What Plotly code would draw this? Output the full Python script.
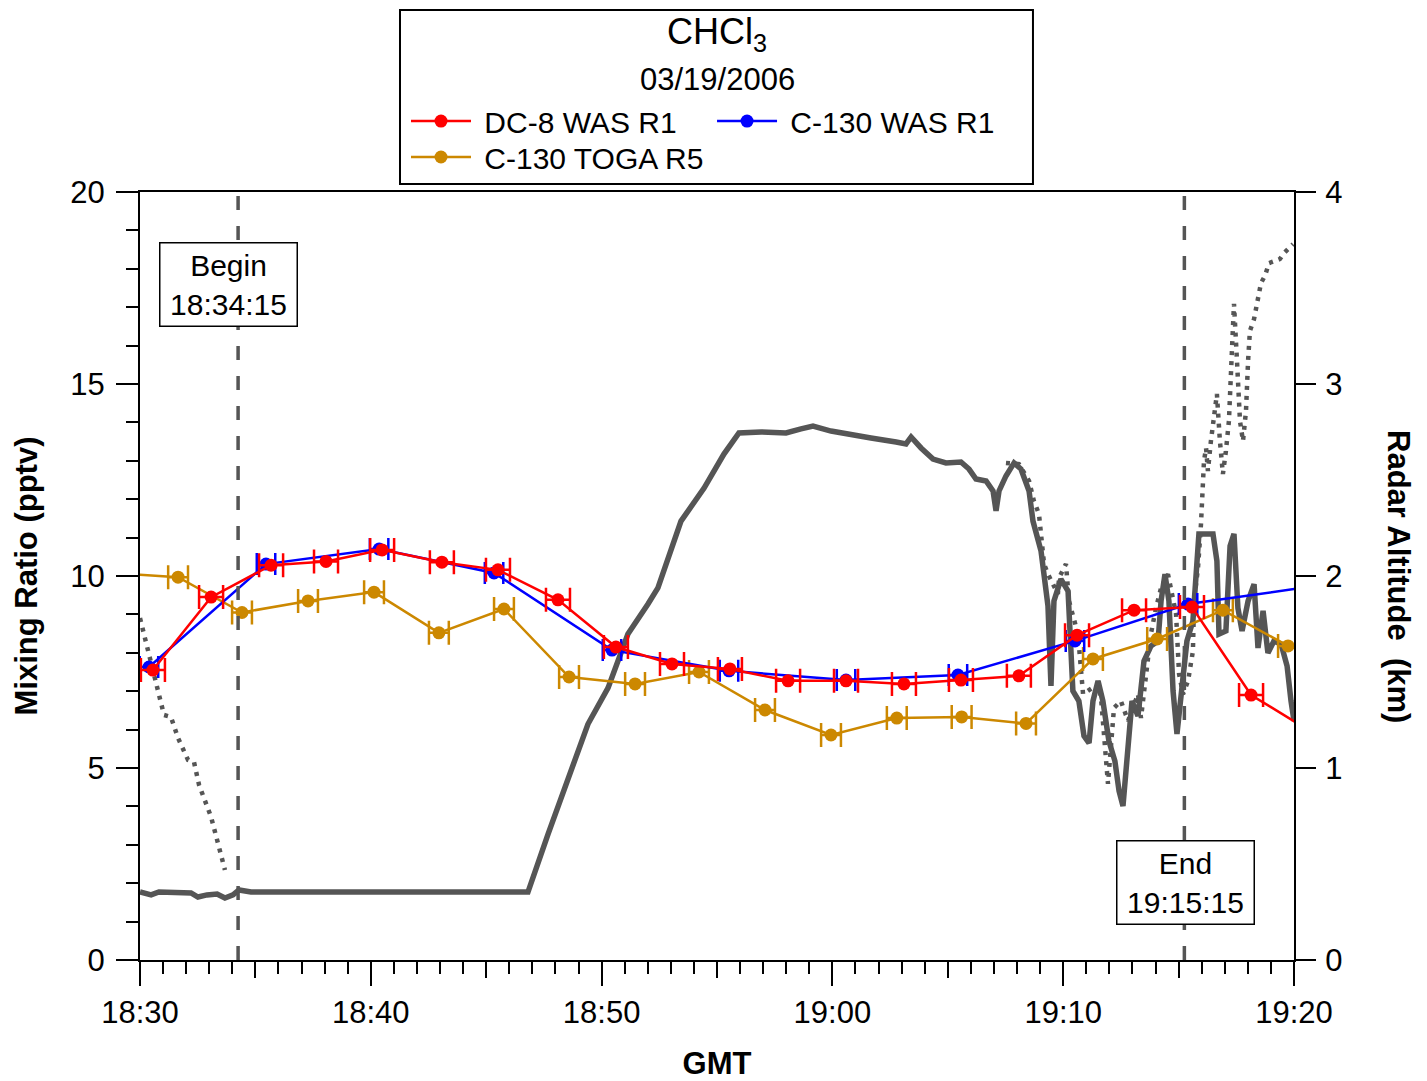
import plotly.graph_objects as go

# ---------------- data (time in minutes after 18:30 GMT) ----------------
tick_vals = [0, 10, 20, 30, 40, 50]
tick_labels = ["18:30", "18:40", "18:50", "19:00", "19:10", "19:20"]
mid_tick_vals = [5, 15, 25, 35, 45]

dc8_t = [0.56, 3.08, 5.68, 8.06, 10.49, 13.08, 15.51, 18.11, 20.62, 23.05, 25.56,
         28.08, 30.59, 33.10, 35.57, 38.08, 40.60, 43.07, 45.58, 48.14, 50.60]
dc8_v = [7.55, 9.45, 10.28, 10.38, 10.68, 10.36, 10.16, 9.38, 8.15, 7.71, 7.58,
         7.27, 7.27, 7.19, 7.29, 7.40, 8.46, 9.11, 9.19, 6.90, 6.00]
dc8_err = 0.52

c130_t = [0.39, 5.46, 10.36, 15.34, 20.45, 25.52, 30.59, 35.44, 40.51, 45.41, 50.60]
c130_v = [7.63, 10.31, 10.70, 10.08, 8.07, 7.53, 7.29, 7.42, 8.31, 9.27, 9.71]
c130_err = 0.40

toga_t = [-1.40, 1.65, 4.42, 7.28, 10.14, 12.95, 15.77, 18.59, 21.45, 24.22, 27.08,
          29.94, 32.79, 35.60, 38.39, 41.29, 44.07, 46.92, 49.74]
toga_v = [10.08, 9.97, 9.05, 9.35, 9.58, 8.52, 9.14, 7.37, 7.19, 7.50, 6.51,
          5.86, 6.30, 6.33, 6.16, 7.84, 8.36, 9.11, 8.18]
toga_err = 0.43

# radar altitude (km), dense trace
alt_solid_t = [0.00, 0.48, 0.82, 2.21, 2.51, 2.90, 3.34, 3.68, 4.03, 4.29, 4.81, 16.81,
               17.68, 18.54, 19.41, 20.28, 21.14, 22.01, 22.44, 23.44, 24.44, 25.30, 25.95,
               26.91, 27.99, 28.64, 29.16, 29.94, 30.81, 31.67, 32.76, 33.19, 33.41, 33.84,
               34.36, 34.92, 35.57, 35.92, 36.22, 36.66, 36.96, 37.09, 37.22, 37.52, 37.87,
               38.17, 38.52, 38.69, 39.04, 39.34, 39.47, 39.60, 39.90, 40.21, 40.42, 40.68,
               40.90, 41.12, 41.29, 41.51, 41.72, 41.98, 42.24, 42.42, 42.59, 42.76, 42.98,
               43.24, 43.50, 43.80, 44.11, 44.24, 44.41, 44.58, 44.76, 44.93, 45.10, 45.36,
               45.62, 45.80, 45.88, 46.49, 46.66, 46.75, 47.05, 47.23, 47.40, 47.57, 47.75,
               48.01, 48.27, 48.44, 48.66, 48.87, 49.13, 49.44, 49.70, 49.87, 50.00]
alt_solid_km = [0.354, 0.339, 0.354, 0.349, 0.328, 0.339, 0.344, 0.323, 0.339, 0.365, 0.354, 0.354,
                0.656, 0.948, 1.229, 1.417, 1.698, 1.854, 1.938, 2.286, 2.458, 2.635, 2.745,
                2.750, 2.745, 2.766, 2.781, 2.755, 2.740, 2.719, 2.698, 2.688, 2.724, 2.667,
                2.609, 2.589, 2.594, 2.557, 2.505, 2.495, 2.443, 2.339, 2.443, 2.521, 2.589,
                2.557, 2.443, 2.286, 2.130, 1.844, 1.427, 1.870, 1.984, 1.922, 1.401, 1.349,
                1.167, 1.130, 1.349, 1.453, 1.349, 1.141, 1.036, 0.880, 0.802, 1.036, 1.349,
                1.271, 1.557, 1.635, 1.661, 1.870, 2.010, 1.870, 1.401, 1.177, 1.349, 1.661,
                1.766, 2.078, 2.219, 2.219, 2.078, 1.698, 1.714, 2.156, 2.219, 1.833, 1.714,
                1.870, 1.958, 1.625, 1.818, 1.599, 1.661, 1.646, 1.531, 1.349, 1.245]

# radar altitude (km), sparse (dotted) trace
alt_dot_t = [0.00, 1.04, 1.34, 1.65, 2.08, 2.34, 2.56, 3.08, 3.68, None,
             37.52, 38.08, 38.52, 38.73, 38.95, 39.17, 39.34, 39.77, 39.82, 40.12, 40.25,
             40.42, 40.64, 40.86, 41.51, 41.64, 41.77, 41.90, 41.94, 42.20, 42.50, 42.81,
             43.24, 43.37, 43.67, 43.80, 44.02, 44.24, 44.54, 44.89, 45.02, 45.19, 45.41,
             45.62, 45.67, 45.84, 45.97, 46.10, 46.19, 46.27, 46.40, 46.53, 46.66, 46.79,
             46.92, 47.05, 47.18, 47.31, 47.40, 47.53, 47.66, 47.79, 47.92, 48.01, 48.09,
             48.27, 48.44, 48.57, 48.74, 48.92, 49.18, 49.39, 49.57, 49.74, 49.96]
alt_dot_km = [1.781, 1.276, 1.266, 1.156, 1.042, 1.031, 0.911, 0.745, 0.469, None,
              2.589, 2.583, 2.495, 2.391, 2.323, 2.063, 2.010, 1.906, 1.990, 2.063, 1.870,
              1.802, 1.698, 1.385, 1.438, 1.365, 1.177, 1.036, 0.917, 1.313, 1.349, 1.245,
              1.385, 1.260, 1.557, 1.698, 1.833, 1.938, 2.010, 1.802, 1.490, 1.385, 1.453,
              1.609, 1.870, 2.042, 2.271, 2.599, 2.667, 2.547, 2.703, 2.807, 2.948, 2.703,
              2.531, 2.651, 2.807, 3.172, 3.417, 3.120, 2.807, 2.703, 2.859, 3.120, 3.276,
              3.339, 3.432, 3.526, 3.563, 3.630, 3.641, 3.651, 3.682, 3.703, 3.729]

event_t = [4.25, 45.25]
event_labels = ["Begin<br>18:34:15", "End<br>19:15:15"]
event_label_y = [17.6, 2.03]

# ---------------- styling ----------------
FONT = "Liberation Sans, Arial, sans-serif"
RED, BLUE, ORANGE, GRAY = "#FF0000", "#0000FF", "#CC8800", "#555555"

fig = go.Figure()

# altitude traces on the base (right) axis -> drawn underneath
fig.add_trace(go.Scatter(x=alt_solid_t, y=alt_solid_km, mode="lines",
                         line=dict(color=GRAY, width=5.5), showlegend=False,
                         xaxis="x", yaxis="y", hoverinfo="skip"))
fig.add_trace(go.Scatter(x=alt_dot_t, y=alt_dot_km, mode="lines", connectgaps=False,
                         line=dict(color=GRAY, width=4.5, dash="4px,6px"), showlegend=False,
                         xaxis="x", yaxis="y", hoverinfo="skip"))

# mixing ratio series on the overlaying (left) axis -> drawn on top
fig.add_trace(go.Scatter(x=toga_t, y=toga_v, mode="lines+markers", name=" C-130 TOGA R5",
                         line=dict(color=ORANGE, width=2.5), marker=dict(color=ORANGE, size=13),
                         error_x=dict(type="constant", value=toga_err, color=ORANGE,
                                      thickness=2.5, width=12),
                         xaxis="x", yaxis="y2", legend="legend3"))
fig.add_trace(go.Scatter(x=c130_t, y=c130_v, mode="lines+markers", name=" C-130 WAS R1",
                         line=dict(color=BLUE, width=2.5), marker=dict(color=BLUE, size=13),
                         error_x=dict(type="constant", value=c130_err, color=BLUE,
                                      thickness=2.5, width=11),
                         xaxis="x", yaxis="y2", legend="legend2"))
fig.add_trace(go.Scatter(x=dc8_t, y=dc8_v, mode="lines+markers", name=" DC-8 WAS R1",
                         line=dict(color=RED, width=2.5), marker=dict(color=RED, size=13),
                         error_x=dict(type="constant", value=dc8_err, color=RED,
                                      thickness=2.5, width=12),
                         xaxis="x", yaxis="y2", legend="legend"))
# carrier for the 5-minute intermediate ticks
fig.add_trace(go.Scatter(x=[0, 50], y=[None, None], mode="lines", showlegend=False,
                         xaxis="x2", yaxis="y2", hoverinfo="skip"))

shapes = []
for t in event_t:
    shapes.append(dict(type="line", xref="x", yref="y2", x0=t, x1=t, y0=0, y1=20,
                       line=dict(color=GRAY, width=3.5, dash="14px,16px")))
# legend frame
shapes.append(dict(type="rect", xref="paper", yref="paper", x0=0.2253, x1=0.7738,
                   y0=1.0104, y1=1.2370, line=dict(color="black", width=2)))

annotations = []
for t, lab, yv, xs in zip(event_t, event_labels, event_label_y, [-10, 1]):
    annotations.append(dict(x=t, y=yv, xref="x", yref="y2", text=lab, showarrow=False,
                            xshift=xs, xanchor="center", yanchor="middle",
                            font=dict(family=FONT, size=30, color="black"),
                            bgcolor="white", bordercolor="black", borderwidth=1.5,
                            borderpad=2, width=132, height=78, align="center"))
annotations.append(dict(x=0.5, y=1.2057, xref="paper", yref="paper", showarrow=False,
                        xanchor="center", yanchor="middle",
                        text="CHCl<sub>3</sub>", font=dict(family=FONT, size=36, color="black")))
annotations.append(dict(x=0.5, y=1.1471, xref="paper", yref="paper", showarrow=False,
                        xanchor="center", yanchor="middle",
                        text="03/19/2006", font=dict(family=FONT, size=31, color="black")))
annotations.append(dict(x=1.0901, y=0.4987, xref="paper", yref="paper", showarrow=False,
                        xanchor="center", yanchor="middle",
                        text="<b>Radar Altitude  (km)</b>", textangle=90,
                        font=dict(family=FONT, size=31, color="black")))

legend_common = dict(orientation="h", xanchor="left", yanchor="middle", bgcolor="rgba(0,0,0,0)",
                     borderwidth=0, itemwidth=60, font=dict(family=FONT, size=30, color="black"))

fig.update_layout(
    width=1427, height=1081,
    margin=dict(l=132, r=141, t=184, b=129),
    paper_bgcolor="white", plot_bgcolor="white",
    font=dict(family=FONT, size=30, color="black"),
    xaxis=dict(range=[0, 50], tickmode="array", tickvals=tick_vals, ticktext=tick_labels,
               ticks="outside", ticklen=24, tickwidth=2, tickcolor="black",
               showline=True, linewidth=2, linecolor="black", mirror=True,
               showgrid=False, zeroline=False, tickfont=dict(family=FONT, size=31),
               minor=dict(tickmode="linear", tick0=0, dtick=1, ticks="outside", ticklen=12,
                          tickwidth=2, tickcolor="black", showgrid=False),
               title=dict(text="<b>GMT</b>", font=dict(family=FONT, size=31), standoff=23)),
    xaxis2=dict(range=[0, 50], overlaying="x", anchor="y2", side="bottom",
                tickmode="array", tickvals=mid_tick_vals, ticks="outside", ticklen=17,
                tickwidth=2, tickcolor="black", showticklabels=False, showline=False,
                showgrid=False, zeroline=False),
    yaxis=dict(range=[0, 4], side="right", tickmode="linear", tick0=0, dtick=1,
               ticks="outside", ticklen=20, tickwidth=2, tickcolor="black",
               showline=True, linewidth=2, linecolor="black", showgrid=False, zeroline=False,
               tickfont=dict(family=FONT, size=31), ticklabelstandoff=3),
    yaxis2=dict(range=[0, 20], side="left", overlaying="y", anchor="x",
                tickmode="linear", tick0=0, dtick=5,
                ticks="outside", ticklen=22, tickwidth=2, tickcolor="black",
                showline=True, linewidth=2, linecolor="black", showgrid=False, zeroline=False,
                tickfont=dict(family=FONT, size=31), ticklabelstandoff=5,
                minor=dict(tickmode="linear", tick0=0, dtick=1, ticks="outside", ticklen=12,
                           tickwidth=2, tickcolor="black", showgrid=False),
                title=dict(text="<b>Mixing Ratio (pptv)</b>", font=dict(family=FONT, size=31),
                           standoff=23)),
    legend=dict(x=0.2305, y=1.0924, **legend_common),
    legend2=dict(x=0.4957, y=1.0924, **legend_common),
    legend3=dict(x=0.2305, y=1.0456, **legend_common),
    shapes=shapes,
    annotations=annotations,
)

fig.write_html("out.html")
